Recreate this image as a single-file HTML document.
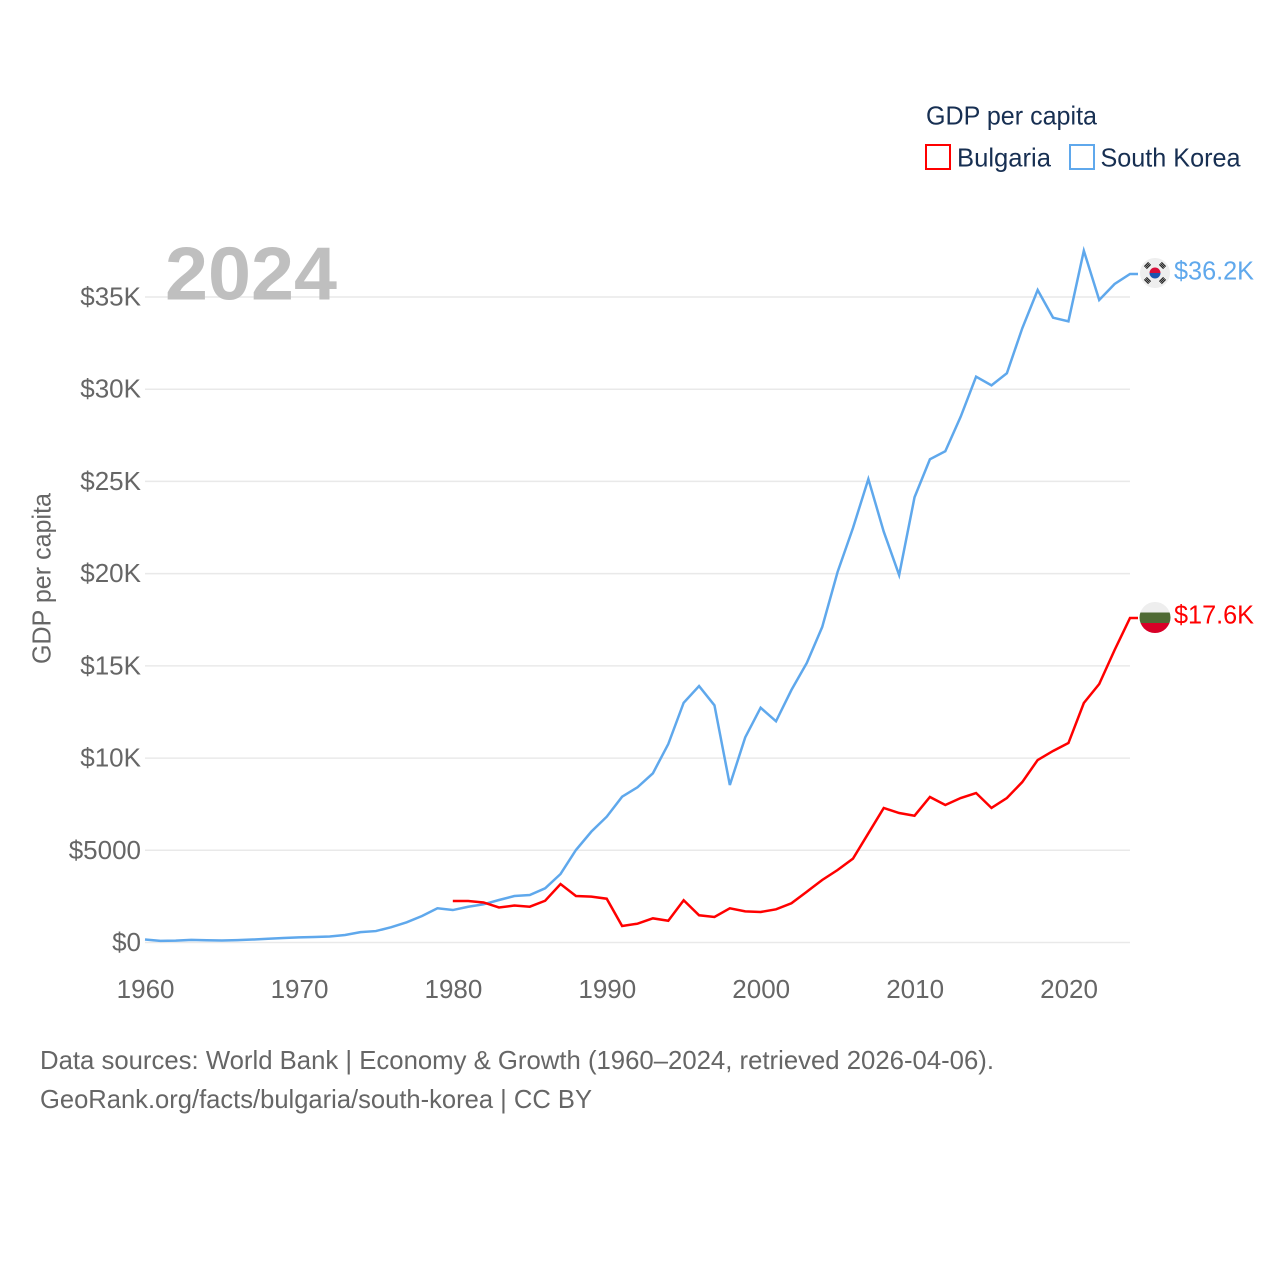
<!DOCTYPE html>
<html lang="en">
<head>
<meta charset="utf-8">
<title>GDP per capita: Bulgaria and South Korea</title>
<style>
html,body{margin:0;padding:0;background:#fff;width:1280px;height:1280px;overflow:hidden}
svg{display:block;font-family:"Liberation Sans",sans-serif}
.tick{font-size:26px;fill:#666}
.legend{font-size:26px;fill:#172f52}
.note{font-size:26px;fill:#666}
</style>
</head>
<body>
<svg id="chart" width="1280" height="1280" viewBox="0 0 1280 1280" xmlns="http://www.w3.org/2000/svg">
  <rect width="1280" height="1280" fill="#fff"/>
  <g id="grid"></g>
  <g id="y-ticks"></g>
  <g id="x-ticks"></g>
  <text x="165" y="299.500" font-size="75" font-weight="700" fill="#bfbfbf" textLength="172" lengthAdjust="spacingAndGlyphs">2024</text>
  <text class="tick" transform="translate(50.500 664) rotate(-90)" x="0" y="0" textLength="171" lengthAdjust="spacingAndGlyphs">GDP per capita</text>
  <g id="series"></g>

  <g>
    <circle cx="1155" cy="273" r="15" fill="#eeeeee"/>
    <path d="M1149.500 273a5.500 5.500 0 0 1 11 0z" fill="#d80f3a"/>
    <path d="M1149.500 273a5.500 5.500 0 0 0 11 0z" fill="#1a55b0"/>
    <g stroke="#222" stroke-width="1.100" fill="none">
      <path transform="rotate(-45 1147.500 265.500)" d="M1144.500 264h6M1144.500 265.500h6M1144.500 267h6"/>
      <path transform="rotate(45 1162.500 265.500)" d="M1159.500 264h6M1159.500 265.500h6M1159.500 267h6"/>
      <path transform="rotate(45 1147.500 280.500)" d="M1144.500 279h6M1144.500 280.500h6M1144.500 282h6"/>
      <path transform="rotate(-45 1162.500 280.500)" d="M1159.500 279h6M1159.500 280.500h6M1159.500 282h6"/>
    </g>
  </g>
  <g>
    <clipPath id="bulgaria-clip"><circle cx="1155" cy="617.500" r="15.500"/></clipPath>
    <g clip-path="url(#bulgaria-clip)">
      <rect x="1139" y="601" width="32" height="11.500" fill="#eeeeee"/>
      <rect x="1139" y="612.500" width="32" height="10.500" fill="#4f6a34"/>
      <rect x="1139" y="623" width="32" height="11" fill="#d80027"/>
    </g>
  </g>
  <text x="1174" y="279.500" font-size="26" fill="#5fa8ec" textLength="80" lengthAdjust="spacingAndGlyphs">$36.2K</text>
  <text x="1174" y="623.500" font-size="26" fill="#ff0000" textLength="80" lengthAdjust="spacingAndGlyphs">$17.6K</text>

  <g>
    <text class="legend" x="926" y="124.500" textLength="171" lengthAdjust="spacingAndGlyphs">GDP per capita</text>
    <g>
      <rect x="926" y="145" width="24" height="24" fill="#fff" stroke="#ff0000" stroke-width="2"/>
      <text class="legend" x="957" y="166.500" textLength="94" lengthAdjust="spacingAndGlyphs">Bulgaria</text>
    </g>
    <g>
      <rect x="1070" y="145" width="24" height="24" fill="#fff" stroke="#5fa8ec" stroke-width="2"/>
      <text class="legend" x="1100.500" y="166.500" textLength="140" lengthAdjust="spacingAndGlyphs">South Korea</text>
    </g>
  </g>

  <text class="note" x="40" y="1069" textLength="954" lengthAdjust="spacingAndGlyphs">Data sources: World Bank | Economy &amp; Growth (1960–2024, retrieved 2026-04-06).</text>
  <text class="note" x="40" y="1108" textLength="552" lengthAdjust="spacingAndGlyphs">GeoRank.org/facts/bulgaria/south-korea | CC BY</text>
</svg>
<script>
const startYear = 1960;
const endYear = 2024;
const xTickYears = [1960, 1970, 1980, 1990, 2000, 2010, 2020];
const yTickValues = [0, 5000, 10000, 15000, 20000, 25000, 30000, 35000];
const yTickLabels = ['$0', '$5000', '$10K', '$15K', '$20K', '$25K', '$30K', '$35K'];
const southKoreaValues = [160, 90, 100, 145, 125, 110, 130, 160, 200, 245, 280, 300, 325, 405, 560, 620, 830, 1095, 1435, 1855, 1760, 1940, 2070, 2305, 2520, 2575, 2940, 3715, 5015, 6010, 6820, 7905, 8415, 9175, 10760, 13000, 13905, 12860, 8540, 11125, 12730, 11995, 13690, 15155, 17105, 20090, 22475, 25130, 22275, 19925, 24140, 26200, 26635, 28510, 30680, 30210, 30865, 33305, 35380, 33880, 33680, 37510, 34840, 35705, 36250];
const bulgariaStartYear = 1980;
const bulgariaValues = [2250, 2250, 2170, 1900, 2005, 1940, 2265, 3170, 2520, 2485, 2375, 895, 1020, 1310, 1180, 2290, 1475, 1385, 1855, 1690, 1655, 1800, 2125, 2755, 3390, 3930, 4545, 5920, 7295, 7020, 6875, 7890, 7455, 7835, 8105, 7295, 7835, 8700, 9895, 10385, 10815, 12985, 14015, 15860, 17595];

const NS = 'http://www.w3.org/2000/svg';
const plotLeft = 145;
const plotRight = 1130;
const zeroY = 942.5;
const y35k = 297;
const connectorEnd = 1138;

function xScale(year) {
  return plotLeft + (year - startYear) * (plotRight - plotLeft) / (endYear - startYear);
}
function yScale(value) {
  return zeroY - value * (zeroY - y35k) / 35000;
}
function make(tag, attrs, text) {
  const el = document.createElementNS(NS, tag);
  for (const k in attrs) el.setAttribute(k, attrs[k]);
  if (text !== undefined) el.textContent = text;
  return el;
}

const grid = document.getElementById('grid');
const yTicks = document.getElementById('y-ticks');
const xTicks = document.getElementById('x-ticks');
const series = document.getElementById('series');

yTickValues.forEach(function (value, i) {
  const line = make('line', { x1: plotLeft, x2: plotRight, y1: yScale(value), y2: yScale(value), stroke: '#e9e9e9', 'stroke-width': 1.5 });
  
  
  grid.appendChild(line);
  const label = make('text', { x: 141, y: yScale(value) + 8.5, 'text-anchor': 'end', class: 'tick' }, yTickLabels[i]);
  
  
  yTicks.appendChild(label);
});

xTickYears.forEach(function (year) {
  const label = make('text', { x: xScale(year) + 0.6, y: 998, 'text-anchor': 'middle', class: 'tick' }, String(year));
  
  
  xTicks.appendChild(label);
});

function linePoints(values, firstYear) {
  const pts = values.map(function (value, i) {
    return xScale(firstYear + i).toFixed(2) + ',' + yScale(value).toFixed(2);
  });
  pts.push(connectorEnd + ',' + yScale(values[values.length - 1]).toFixed(2));
  return pts.join(' ');
}

const koreaLine = make('polyline', { points: linePoints(southKoreaValues, startYear), fill: 'none', stroke: '#5fa8ec', 'stroke-width': 2.5, 'stroke-linejoin': 'miter' });


series.appendChild(koreaLine);

const bulgariaLine = make('polyline', { points: linePoints(bulgariaValues, bulgariaStartYear), fill: 'none', stroke: '#ff0000', 'stroke-width': 2.5, 'stroke-linejoin': 'miter' });


series.appendChild(bulgariaLine);
</script>
</body>
</html>
